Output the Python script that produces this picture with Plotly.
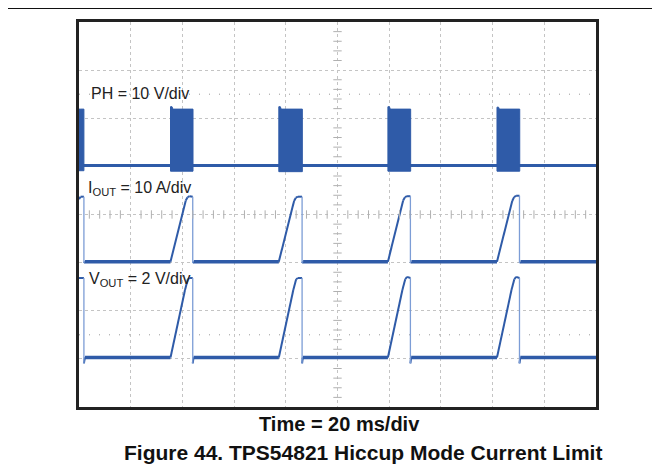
import plotly.graph_objects as go

# ── Scope capture data (time in ms, 20 ms/div) ────────────────────────────────

# PH switch node, 10 V/div, switching bursts drawn as a solid envelope
ph_burst_start = [0.0, 35.4, 77.3, 119.5, 161.7]
ph_burst_end = [1.9, 44.1, 86.4, 128.3, 170.5]
ph_high = [11.7, 11.7, 11.7, 11.7, 11.7]
ph_peak = [11.7, 12.2, 12.2, 12.2, 12.1]
ph_low = [-1.1, -1.2, -1.3, -1.2, -1.2]

# IOUT, 10 A/div
iout_t = [0.0, 0.6, 1.9, 1.9, 2.3,
          35.4, 41.3, 42.0, 42.8, 44.0, 44.0, 44.4,
          77.3, 83.2, 83.9, 84.7, 86.3, 86.3, 86.7,
          119.5, 125.4, 126.1, 126.9, 128.2, 128.2, 128.6,
          161.7, 167.6, 168.3, 169.1, 170.4, 170.4, 170.8,
          200.0]
iout_a = [13.0, 13.5, 13.5, -0.3, 0.0,
          0.0, 12.7, 13.4, 13.6, 13.5, -0.3, 0.0,
          0.0, 12.6, 13.3, 13.5, 13.5, -0.3, 0.0,
          0.0, 12.7, 13.4, 13.6, 13.6, -0.3, 0.0,
          0.0, 12.6, 13.4, 13.7, 13.7, -0.3, 0.0,
          0.0]

# VOUT, 2 V/div
vout_t = [0.0, 1.9, 1.9, 2.3,
          35.4, 41.0, 42.1, 42.8, 44.0, 44.0, 44.3,
          77.3, 82.9, 84.0, 84.7, 86.3, 86.3, 86.6,
          119.5, 125.1, 126.2, 126.9, 128.2, 128.2, 128.5,
          161.7, 167.3, 168.4, 169.1, 170.4, 170.4, 170.7,
          200.0]
vout_v = [3.3, 3.3, -0.25, 0.0,
          0.0, 2.8, 3.25, 3.3, 3.3, -0.25, 0.0,
          0.0, 2.8, 3.25, 3.3, 3.3, -0.25, 0.0,
          0.0, 2.8, 3.25, 3.35, 3.3, -0.25, 0.0,
          0.0, 2.8, 3.25, 3.35, 3.3, -0.25, 0.0,
          0.0]

# channel settings: (volts or amps per div, ground position in div)
PH_SCALE, PH_GND = 10.0, 1.02
IOUT_SCALE, IOUT_GND = 10.0, -0.98
VOUT_SCALE, VOUT_GND = 2.0, -2.97

BLUE = "#2f5ba8"
EDGE = "#7c9dd6"


def to_div(vals, scale, gnd):
    return [gnd + v / scale for v in vals]


def split_segments(t, y, base):
    """Split a trace into baseline / ramp / fast-edge pieces (None separated)."""
    parts = {"base": ([], []), "ramp": ([], []), "edge": ([], [])}
    for i in range(len(t) - 1):
        if t[i] == t[i + 1]:
            key = "edge"
        elif y[i] == base and y[i + 1] == base:
            key = "base"
        else:
            key = "ramp"
        xs, ys = parts[key]
        xs += [t[i], t[i + 1], None]
        ys += [y[i], y[i + 1], None]
    return parts


fig = go.Figure()

# PH baseline and bursts
fig.add_trace(go.Scatter(x=[0, 200], y=[PH_GND, PH_GND], mode="lines",
                         line=dict(color=BLUE, width=3), hoverinfo="skip"))
for s, e, hi, pk, lo in zip(ph_burst_start, ph_burst_end, ph_high, ph_peak, ph_low):
    xs = [s, s, min(s + 0.6, e), min(s + 0.9, e), e, e, s]
    ys = [lo, pk, pk, hi, hi, lo, lo]
    fig.add_trace(go.Scatter(x=xs, y=to_div(ys, PH_SCALE, PH_GND), mode="lines",
                             fill="toself", fillcolor=BLUE,
                             line=dict(color=BLUE, width=1), hoverinfo="skip"))

# IOUT and VOUT
for t, vals, scale, gnd in [(iout_t, iout_a, IOUT_SCALE, IOUT_GND),
                            (vout_t, vout_v, VOUT_SCALE, VOUT_GND)]:
    y = to_div(vals, scale, gnd)
    parts = split_segments(t, y, gnd)
    styles = {"base": (BLUE, 3.5), "ramp": (BLUE, 2), "edge": (EDGE, 1.3)}
    for key, (color, width) in styles.items():
        xs, ys = parts[key]
        fig.add_trace(go.Scatter(x=xs, y=ys, mode="lines", connectgaps=False,
                                 line=dict(color=color, width=width),
                                 hoverinfo="skip"))

# minor ticks on the centre graticule lines
ticks = [k / 5 for k in range(-20, 21) if k % 5]
fig.add_trace(go.Scatter(x=[100] * len(ticks), y=ticks, mode="markers",
                         marker=dict(symbol="line-ew", size=6,
                                     line=dict(color="#b0b0b0", width=1)),
                         hoverinfo="skip"))
xticks = [k * 4 for k in range(1, 50) if k % 5]
fig.add_trace(go.Scatter(x=xticks, y=[0] * len(xticks), mode="markers",
                         marker=dict(symbol="line-ns", size=6,
                                     line=dict(color="#b0b0b0", width=1)),
                         hoverinfo="skip"))

# ground markers
fig.add_trace(go.Scatter(x=[-1.3] * 3, y=[PH_GND, IOUT_GND, VOUT_GND],
                         mode="markers", cliponaxis=False,
                         marker=dict(symbol="triangle-right", size=5, color="#111"),
                         hoverinfo="skip"))

# cursor lines
for yc in (2.5, -2.5):
    fig.add_shape(type="line", xref="x", yref="y", x0=0, x1=200, y0=yc, y1=yc,
                  line=dict(color="#9a9a9a", width=1, dash="1px,9px"), layer="below")

# rule above the figure
fig.add_shape(type="line", xref="paper", yref="paper", x0=-0.2, x1=1.2,
              y0=1.036, y1=1.036, line=dict(color="#111", width=1.5))

label_font = dict(family="Liberation Sans, Arial", size=16, color="#222")
fig.add_annotation(x=4.0, y=2.52, text="PH = 10 V/div", showarrow=False,
                   xanchor="left", yanchor="middle", font=label_font)
fig.add_annotation(x=2.7, y=0.55, text="I<sub>OUT</sub> = 10 A/div", showarrow=False,
                   xanchor="left", yanchor="middle", font=label_font)
fig.add_annotation(x=3.0, y=-1.36, text="V<sub>OUT</sub> = 2 V/div", showarrow=False,
                   xanchor="left", yanchor="middle", font=label_font)

fig.add_annotation(x=0.504, y=-0.043, xref="paper", yref="paper",
                   text="<b>Time = 20 ms/div</b>", showarrow=False,
                   xanchor="center", yanchor="middle",
                   font=dict(family="Liberation Sans, Arial", size=20, color="#111"))
fig.add_annotation(x=0.550, y=-0.119, xref="paper", yref="paper",
                   text="<b>Figure 44. TPS54821 Hiccup Mode Current Limit</b>",
                   showarrow=False, xanchor="center", yanchor="middle",
                   font=dict(family="Liberation Sans, Arial", size=21, color="#111"))

grid = dict(showgrid=True, gridcolor="#c4c4c4", griddash="dot", gridwidth=1,
            zeroline=False, showticklabels=False, ticks="",
            showline=True, mirror=True, linecolor="#222", linewidth=2.5)
fig.update_xaxes(range=[0, 200], dtick=20, **grid)
fig.update_yaxes(range=[-4, 4], dtick=1, **grid)

# page body adds an 8 px offset, so the figure is drawn 8 px smaller
fig.update_layout(
    width=652, height=468,
    margin=dict(l=71, r=64, t=14, b=69),
    paper_bgcolor="white", plot_bgcolor="white",
    showlegend=False,
)

fig.write_html("out.html")
